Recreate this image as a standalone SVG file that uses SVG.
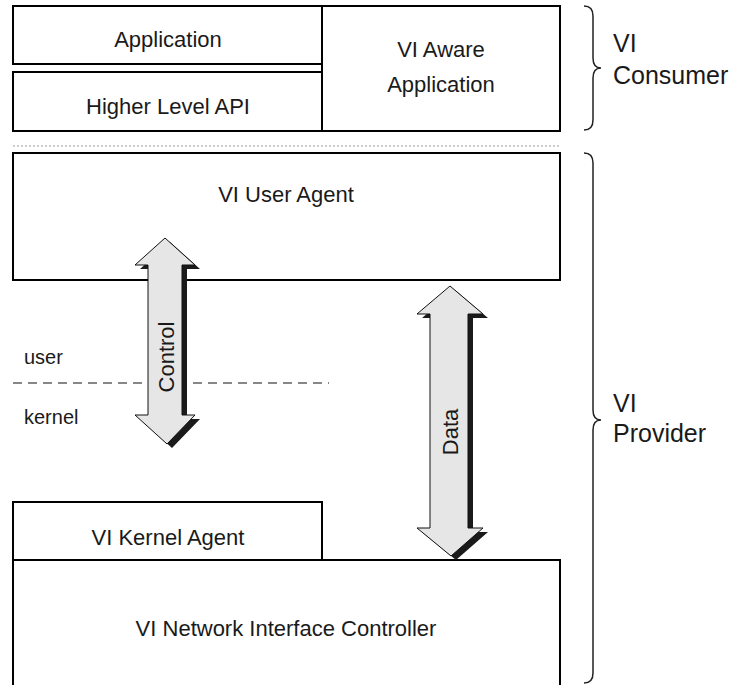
<svg xmlns="http://www.w3.org/2000/svg" width="744" height="685" viewBox="0 0 744 685">
<defs>
<style>
.box{fill:#fff;stroke:#000;stroke-width:2}
.t{font-family:"Liberation Sans",Arial,sans-serif;font-size:22px;fill:#1a1a1a;text-anchor:middle}
.s{font-family:"Liberation Sans",Arial,sans-serif;font-size:20px;fill:#1a1a1a}
.l{font-family:"Liberation Sans",Arial,sans-serif;font-size:25px;fill:#1a1a1a}
.brace{fill:none;stroke:#222;stroke-width:1.5}
.arr{fill:#e6e6e6;stroke:#111;stroke-width:1}
.shd{fill:#1a1a1a}
</style>
</defs>
<rect width="744" height="685" fill="#fff"/>
<g id="application"><rect class="box" x="13" y="6" width="309" height="58"/><text class="t" x="168" y="47">Application</text></g>
<g id="higher-level-api"><rect class="box" x="13" y="72" width="309" height="59"/><text class="t" x="168" y="114">Higher Level API</text></g>
<g id="vi-aware-application"><rect class="box" x="322" y="6" width="238" height="125"/><text class="t" x="441" y="57">VI Aware</text><text class="t" x="441" y="92">Application</text></g>
<line x1="13" y1="146" x2="560" y2="146" stroke="#999" stroke-width="1.2" stroke-dasharray="2,2"/>
<g id="vi-user-agent"><rect class="box" x="13" y="153" width="547" height="127"/><text class="t" x="286" y="202">VI User Agent</text></g>
<g id="vi-kernel-agent"><rect class="box" x="13" y="502" width="309" height="58"/><text class="t" x="168" y="545">VI Kernel Agent</text></g>
<g id="vi-nic"><path class="box" d="M13,690 V560 H560 V690"/><text class="t" x="286" y="636">VI Network Interface Controller</text></g>
<g id="user-kernel">
<text class="s" x="24" y="364">user</text>
<line x1="13" y1="383" x2="329" y2="383" stroke="#111" stroke-width="1.2" stroke-dasharray="9,6"/>
<text class="s" x="24" y="424">kernel</text>
</g>
<g id="connectors">
<g id="control">
<path class="shd" transform="translate(5,4)" d="M165,238 L195,265 L182,265 L182,415 L195,415 L167,444 L135,415 L148,415 L148,265 L135,265 Z"/>
<path class="arr" d="M165,238 L195,265 L182,265 L182,415 L195,415 L167,444 L135,415 L148,415 L148,265 L135,265 Z"/>
<text class="t" transform="translate(174,357) rotate(-90)">Control</text>
</g>
<g id="data">
<path class="shd" transform="translate(5,4)" d="M450,286 L483,314 L468,314 L468,528 L483,528 L451,556 L417,528 L430,528 L430,314 L417,314 Z"/>
<path class="arr" d="M450,286 L483,314 L468,314 L468,528 L483,528 L451,556 L417,528 L430,528 L430,314 L417,314 Z"/>
<text class="t" transform="translate(458,432) rotate(-90)">Data</text>
</g>
</g>
<g id="consumer-brace">
<path class="brace" d="M584,6 Q593,6 593,16 V58 Q593,68 601,68 Q593,68 593,78 V120 Q593,130 584,130"/>
<text class="l" x="613" y="52">VI</text>
<text class="l" x="613" y="84">Consumer</text>
</g>
<g id="provider-brace">
<path class="brace" d="M584,153 Q593,153 593,163 V410 Q593,420 601,420 Q593,420 593,430 V673 Q593,683 584,683"/>
<text class="l" x="613" y="412">VI</text>
<text class="l" x="613" y="442">Provider</text>
</g>
</svg>
